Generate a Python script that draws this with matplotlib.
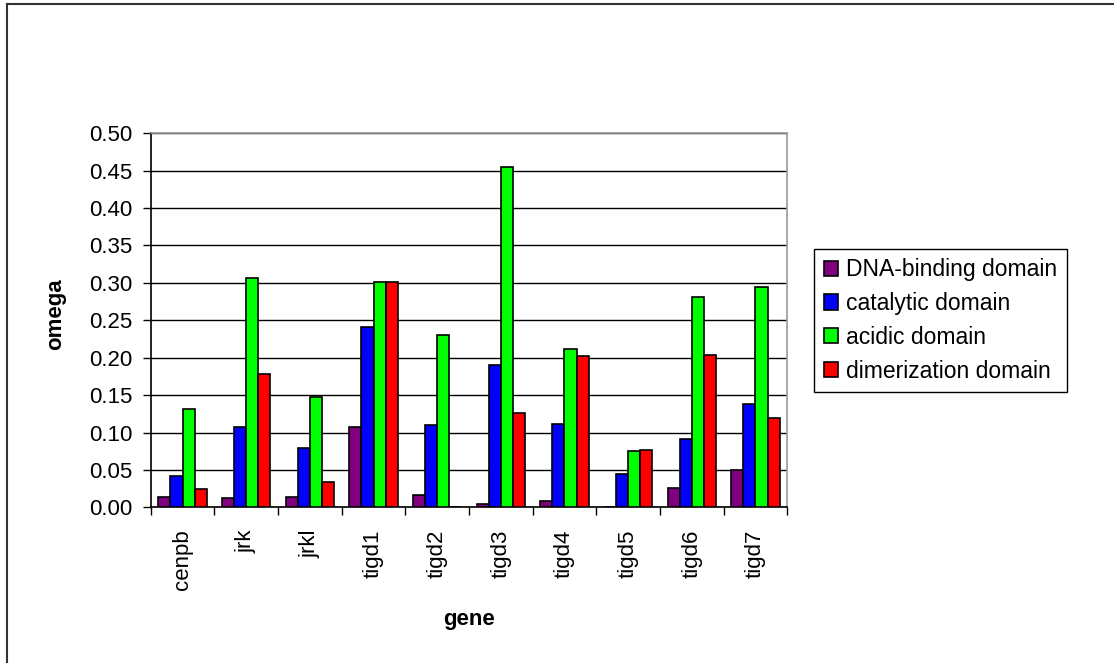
import numpy as np
import matplotlib
matplotlib.use("Agg")
from matplotlib import pyplot as plt
from matplotlib.lines import Line2D

genes = ["cenpb", "jrk", "jrkl", "tigd1", "tigd2", "tigd3", "tigd4", "tigd5", "tigd6", "tigd7"]
dna_binding  = [0.014, 0.012, 0.014, 0.108, 0.016, 0.004, 0.008, 0.0, 0.026, 0.050]
catalytic    = [0.042, 0.108, 0.079, 0.241, 0.110, 0.190, 0.111, 0.045, 0.091, 0.138]
acidic       = [0.132, 0.306, 0.148, 0.301, 0.231, 0.455, 0.212, 0.075, 0.281, 0.294]
dimerization = [0.024, 0.178, 0.034, 0.301, 0.0, 0.126, 0.202, 0.077, 0.204, 0.119]

series = [("DNA-binding domain", dna_binding, "#800080"),
          ("catalytic domain", catalytic, "#0000ff"),
          ("acidic domain", acidic, "#00ff00"),
          ("dimerization domain", dimerization, "#ff0000")]

plt.rcParams['font.family'] = ['Liberation Sans', 'DejaVu Sans']
fs = 16

fig = plt.figure(figsize=(11.14, 6.63), dpi=100)
ax = fig.add_axes([0.1353, 0.2348, 0.5714, 0.5642])

x = np.arange(len(genes))
w = 0.19
for k, (name, vals, col) in enumerate(series):
    ax.bar(x + (k - 1.5) * w, vals, width=w, color=col, edgecolor="black",
           linewidth=1.2, label=name, zorder=3)

ax.set_xlim(-0.5, len(genes) - 0.5)
ax.set_ylim(0, 0.5)
yt = np.arange(0, 0.501, 0.05)
ax.set_yticks(yt)
ax.set_yticklabels([f"{v:.2f}" for v in yt], fontsize=fs)
ax.yaxis.grid(True, color="black", linewidth=1, zorder=0)
ax.set_axisbelow(True)

# category labels centred, ticks between categories
ax.set_xticks(x)
ax.set_xticklabels(genes, rotation=90, fontsize=fs)
ax.tick_params(axis="x", length=0, pad=16)
ax.set_xticks(np.arange(-0.5, len(genes)), minor=True)
ax.tick_params(axis="x", which="minor", length=6, width=1, direction="out")
ax.tick_params(axis="y", length=6, width=1, direction="out", pad=7)

for s in ["top", "right"]:
    ax.spines[s].set_color("#999999")
    ax.spines[s].set_linewidth(1.2)
for s in ["left", "bottom"]:
    ax.spines[s].set_color("black")
    ax.spines[s].set_linewidth(1.2)

ax.set_ylabel("omega", fontsize=fs, fontweight="bold", va="center")
ax.yaxis.set_label_coords(-0.150, 0.517)
ax.set_xlabel("gene", fontsize=fs, fontweight="bold", va="center")
ax.xaxis.set_label_coords(0.5, -0.301)

fig.legend(loc="center left", bbox_to_anchor=(0.7307, 0.5166), fontsize=16.5,
           frameon=True, fancybox=False, edgecolor="black", framealpha=1,
           handlelength=0.64, handleheight=0.64, handletextpad=0.35,
           labelspacing=0.47, borderpad=0.42, borderaxespad=0)

# outer chart frame (only left and top visible)
fig.add_artist(Line2D([0.0065, 0.0065], [0, 0.994], color="#333333", linewidth=1.5, transform=fig.transFigure))
fig.add_artist(Line2D([0.0065, 1.0], [0.994, 0.994], color="#333333", linewidth=1.5, transform=fig.transFigure))

fig.savefig("out.png", dpi=100)
